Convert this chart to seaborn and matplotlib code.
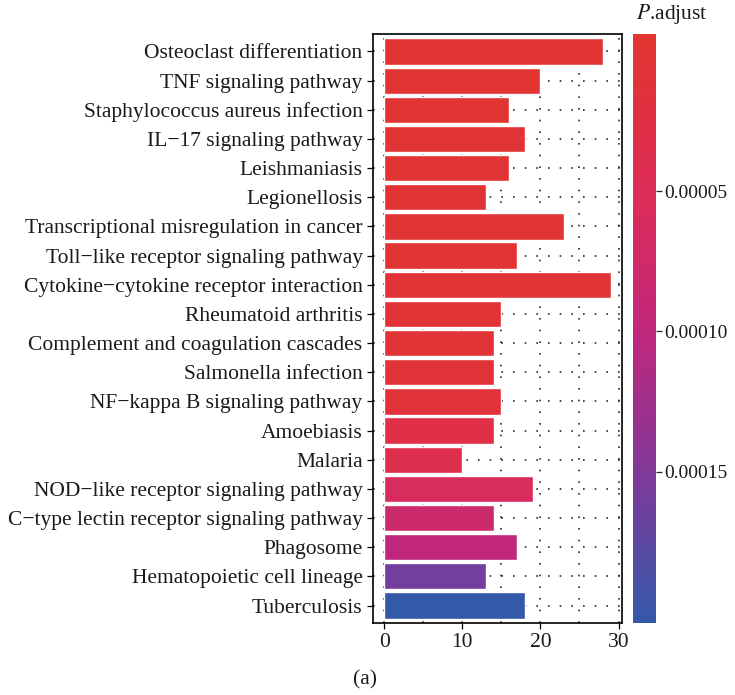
import matplotlib
matplotlib.use("Agg")
import matplotlib.pyplot as plt
import matplotlib.colors as mcolors
import matplotlib.cm as cm
from matplotlib.ticker import FixedLocator
import seaborn as sns
import pandas as pd

terms = [
    "Osteoclast differentiation",
    "TNF signaling pathway",
    "Staphylococcus aureus infection",
    "IL\u221217 signaling pathway",
    "Leishmaniasis",
    "Legionellosis",
    "Transcriptional misregulation in cancer",
    "Toll\u2212like receptor signaling pathway",
    "Cytokine\u2212cytokine receptor interaction",
    "Rheumatoid arthritis",
    "Complement and coagulation cascades",
    "Salmonella infection",
    "NF\u2212kappa B signaling pathway",
    "Amoebiasis",
    "Malaria",
    "NOD\u2212like receptor signaling pathway",
    "C\u2212type lectin receptor signaling pathway",
    "Phagosome",
    "Hematopoietic cell lineage",
    "Tuberculosis",
]
counts = [28, 20, 16, 18, 16, 13, 23, 17, 29, 15, 14, 14, 15, 14, 10, 19, 14, 17, 13, 18]
p_adjust = [1e-9, 2e-7, 5e-7, 8e-7, 1.2e-6, 2e-6, 2.5e-6, 3e-6, 4e-6, 5e-6,
            6e-6, 7e-6, 9e-6, 2.8e-5, 3.8e-5, 6e-5, 8e-5, 1.0e-4, 1.6e-4, 2.04e-4]
cbar_ticks = [0.00005, 0.00010, 0.00015]
cbar_ticklabels = ["0.00005", "0.00010", "0.00015"]
x_ticks = [0, 10, 20, 30]

df = pd.DataFrame({"term": terms, "count": counts, "p": p_adjust})

sns.set_theme(style="white")
plt.rcParams["font.family"] = ["Liberation Serif", "DejaVu Serif"]
plt.rcParams["mathtext.fontset"] = "stix"

FS = 15.5

cmap = mcolors.LinearSegmentedColormap.from_list(
    "padj", [(0.0, "#E3352F"), (0.27, "#DD2C57"), (0.5, "#C2277B"),
             (0.75, "#80399A"), (1.0, "#3359A9")])
norm = mcolors.Normalize(vmin=-6e-6, vmax=2.04e-4)
colors = [cmap(norm(v)) for v in p_adjust]

fig = plt.figure(figsize=(7.35, 6.95), dpi=100)
ax = fig.add_axes([0.5075, 0.1036, 0.3388, 0.8475])
cax = fig.add_axes([0.8612, 0.1036, 0.0313, 0.8475])

sns.barplot(data=df, x="count", y="term", hue="term", palette=colors,
            legend=False, ax=ax, width=0.9, saturation=1, orient="h")

ax.set_xlim(-1.45, 30.45)
ax.set_ylim(len(terms) - 0.4, -0.6)
ax.set_xticks(x_ticks)
ax.xaxis.set_minor_locator(FixedLocator([5, 15, 25]))
ax.set_axisbelow(True)
grid_style = dict(linestyle=(0, (1, 6)), color="#2a2a2a", linewidth=1.2)
ax.grid(True, which="both", axis="x", **grid_style)
ax.grid(True, which="major", axis="y", **grid_style)
ax.set_xlabel("")
ax.set_ylabel("")
for s in ax.spines.values():
    s.set_visible(True)
    s.set_color("black")
    s.set_linewidth(1.2)
ax.tick_params(axis="both", which="major", direction="out", length=4, width=0.9,
               color="black", labelsize=FS, labelcolor="#1a1a1a", left=True, bottom=True)
ax.tick_params(axis="x", which="minor", length=0)
ax.tick_params(axis="x", pad=3)

sm = cm.ScalarMappable(norm=norm, cmap=cmap)
cb = fig.colorbar(sm, cax=cax)
cb.outline.set_visible(False)
cb.set_ticks(cbar_ticks)
cb.set_ticklabels(cbar_ticklabels)
cax.invert_yaxis()
cax.tick_params(direction="out", length=4, width=0.9, pad=2, labelsize=14,
                labelcolor="#1a1a1a")

fig.text(0.865, 0.962, r"$P$.adjust", fontsize=FS, ha="left", va="bottom", color="#1a1a1a")
fig.text(0.497, 0.008, "(a)", fontsize=FS, ha="center", va="bottom", color="#1a1a1a")

fig.savefig("out.png", dpi=100)
